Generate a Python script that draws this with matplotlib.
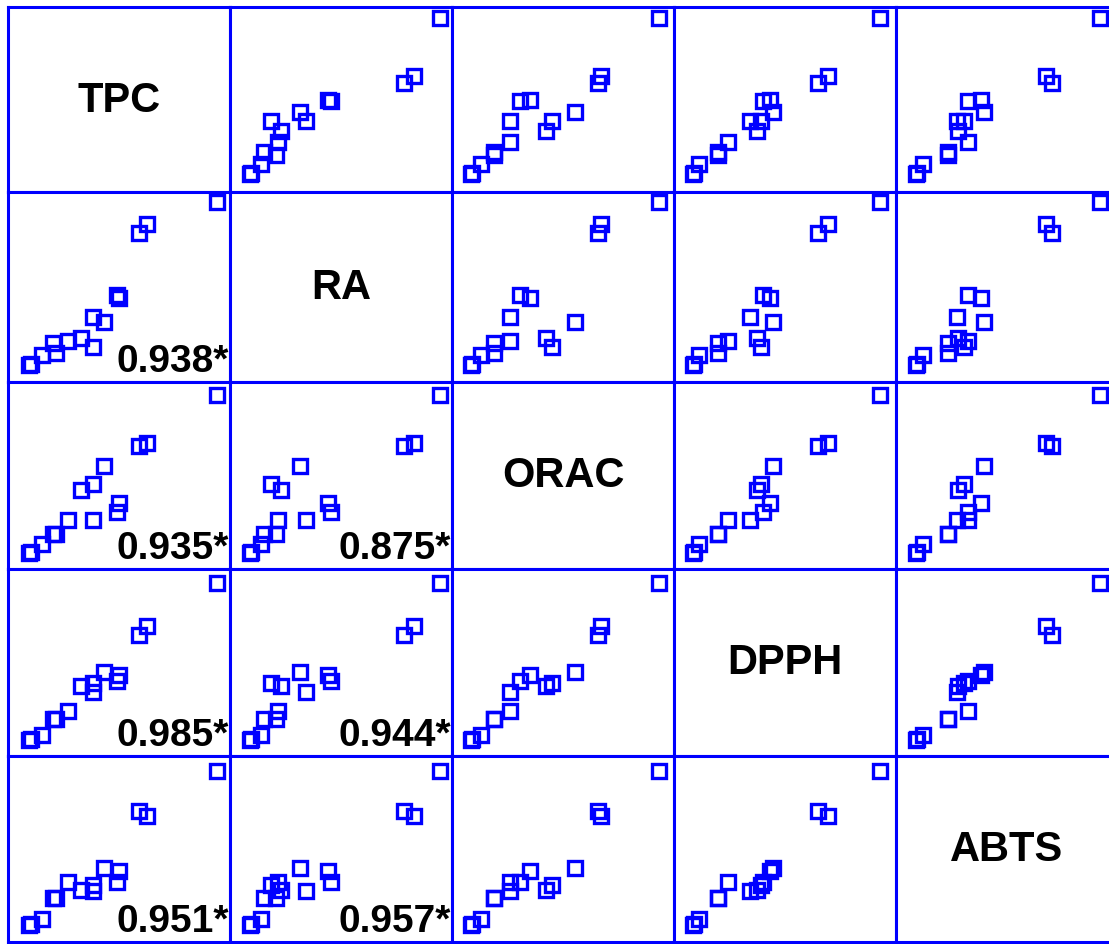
import matplotlib.pyplot as plt
import numpy as np

# variable names and sample values (scaled 0..1 within each panel)
names = ["TPC", "RA", "ORAC", "DPPH", "ABTS"]

TPC  = [0.940, 0.590, 0.626, 0.500, 0.490, 0.433, 0.383, 0.383, 0.328, 0.271, 0.202, 0.215, 0.152, 0.103, 0.095]
RA   = [0.945, 0.786, 0.829, 0.443, 0.457, 0.316, 0.343, 0.183, 0.229, 0.214, 0.206, 0.153, 0.140, 0.096, 0.090]
ORAC = [0.933, 0.657, 0.672, 0.352, 0.307, 0.553, 0.262, 0.452, 0.422, 0.262, 0.189, 0.189, 0.132, 0.091, 0.085]
DPPH = [0.926, 0.649, 0.695, 0.433, 0.402, 0.448, 0.344, 0.390, 0.375, 0.243, 0.200, 0.200, 0.114, 0.091, 0.085]
ABTS = [0.921, 0.703, 0.675, 0.384, 0.323, 0.397, 0.275, 0.307, 0.281, 0.323, 0.235, 0.235, 0.121, 0.096, 0.090]

data = [TPC, RA, ORAC, DPPH, ABTS]

# correlation labels shown in lower panels: (row, col) -> text
corr = {
    (1, 0): "0.938*",
    (2, 0): "0.935*", (2, 1): "0.875*",
    (3, 0): "0.985*", (3, 1): "0.944*",
    (4, 0): "0.951*", (4, 1): "0.957*",
}

W, H = 1109, 945
col_x = [8, 230, 452, 674, 896, 1118]
row_y = [8, 193, 383, 570, 757, 943]
blue = "#0000ff"

plt.rcParams['font.family'] = ['Liberation Sans', 'DejaVu Sans']

fig = plt.figure(figsize=(W / 100, H / 100), dpi=100)

for i in range(5):
    for j in range(5):
        x0, x1 = col_x[j], col_x[j + 1]
        y0, y1 = row_y[i], row_y[i + 1]
        ax = fig.add_axes([x0 / W, 1 - y1 / H, (x1 - x0) / W, (y1 - y0) / H])
        ax.set_xlim(0, 1)
        ax.set_ylim(0, 1)
        ax.set_xticks([])
        ax.set_yticks([])
        for s in ax.spines.values():
            s.set_color(blue)
            s.set_linewidth(2.2)
        if i == j:
            ax.text(0.5, 0.5, names[i], ha='center', va='center',
                    fontsize=30, fontweight='bold', transform=ax.transAxes)
            continue
        ax.plot(data[j], data[i], linestyle='None', marker='s', markersize=9.5,
                markerfacecolor='none', markeredgecolor=blue, markeredgewidth=2.4)
        if (i, j) in corr:
            ax.text(0.997, 0.06, corr[(i, j)], ha='right', va='baseline',
                    fontsize=28, fontweight='bold', transform=ax.transAxes)

fig.savefig("out.png", dpi=100)
